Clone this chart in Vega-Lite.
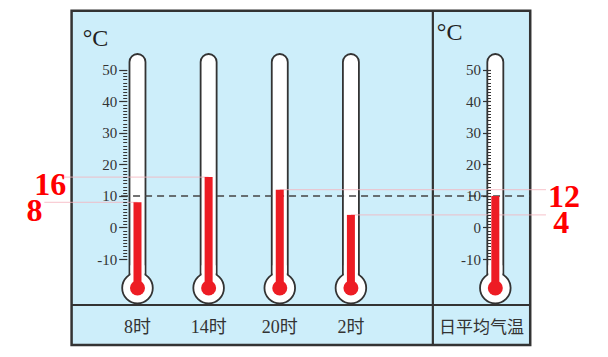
{
  "$schema": "https://vega.github.io/schema/vega-lite/v6.json",
  "width": 608,
  "height": 357,
  "autosize": {"type": "none"},
  "padding": 0,
  "background": "white",
  "config": {"view": {"stroke": null}},
  "data": {"values": [
    {"time": "8时", "slot": 1, "temp": 8},
    {"time": "14时", "slot": 2, "temp": 16},
    {"time": "20时", "slot": 3, "temp": 12},
    {"time": "2时", "slot": 4, "temp": 4},
    {"time": "日平均气温", "slot": 6.03, "temp": 10}
  ]},
  "resolve": {"axis": {"y": "independent"}},
  "layer": [
    {
      "data": {"values": [{}]},
      "mark": {"type": "rect", "fill": "#cdeefa", "stroke": "#333333", "strokeWidth": 2.5},
      "encoding": {
        "x": {"datum": 0.0737, "type": "quantitative", "scale": {"domain": [-0.8623, 7.5436], "nice": false, "zero": false}, "axis": null},
        "x2": {"datum": 6.5206},
        "y": {"datum": 68.83, "type": "quantitative", "scale": {"domain": [-41.11, 72.22], "nice": false, "zero": false}, "axis": null},
        "y2": {"datum": -37.3}
      }
    },
    {
      "data": {"values": [{}]},
      "mark": {"type": "rule", "stroke": "#333333", "strokeWidth": 2.2},
      "encoding": {
        "x": {"datum": 5.152, "type": "quantitative", "scale": {"domain": [-0.8623, 7.5436], "nice": false, "zero": false}, "axis": null},
        "y": {"datum": 68.83, "type": "quantitative", "scale": {"domain": [-41.11, 72.22], "nice": false, "zero": false}, "axis": null},
        "y2": {"datum": -37.3}
      }
    },
    {
      "data": {"values": [{}]},
      "mark": {"type": "rule", "stroke": "#333333", "strokeWidth": 2.2},
      "encoding": {
        "x": {"datum": 0.0737, "type": "quantitative", "scale": {"domain": [-0.8623, 7.5436], "nice": false, "zero": false}, "axis": null},
        "x2": {"datum": 6.5206},
        "y": {"datum": -24.6, "type": "quantitative", "scale": {"domain": [-41.11, 72.22], "nice": false, "zero": false}, "axis": null}
      }
    },
    {
      "mark": {"type": "bar", "width": 16, "fill": "white", "stroke": "#333333", "strokeWidth": 1.8, "cornerRadiusTopLeft": 8, "cornerRadiusTopRight": 8},
      "encoding": {
        "x": {"field": "slot", "type": "quantitative", "scale": {"domain": [-0.8623, 7.5436], "nice": false, "zero": false}, "axis": null},
        "y": {"datum": 55.08, "type": "quantitative", "scale": {"domain": [-41.11, 72.22], "nice": false, "zero": false},
          "axis": {"orient": "left", "offset": -126.7, "values": [-10, 0, 10, 20, 30, 40, 50], "tickSize": 8, "tickWidth": 1.2, "tickColor": "#333333", "labelFont": "Liberation Serif, Times New Roman, serif", "labelFontSize": 15, "labelColor": "#333333", "labelPadding": 2, "labelOverlap": false, "labelFlush": false, "labelExpr": "datum.value < 0 ? '-' + abs(datum.value) : datum.label", "domain": false, "grid": false, "title": null, "zindex": 1}},
        "y2": {"datum": -19.21}
      }
    },
    {
      "mark": {"type": "point", "filled": true, "fill": "white", "stroke": "#333333", "strokeWidth": 1.8, "size": 936, "opacity": 1},
      "encoding": {
        "x": {"field": "slot", "type": "quantitative", "scale": {"domain": [-0.8623, 7.5436], "nice": false, "zero": false}, "axis": null},
        "y": {"datum": -19.21, "type": "quantitative", "scale": {"domain": [-41.11, 72.22], "nice": false, "zero": false}, "axis": null}
      }
    },
    {
      "mark": {"type": "bar", "width": 14, "fill": "white"},
      "encoding": {
        "x": {"field": "slot", "type": "quantitative", "scale": {"domain": [-0.8623, 7.5436], "nice": false, "zero": false}, "axis": null},
        "y": {"datum": -12, "type": "quantitative", "scale": {"domain": [-41.11, 72.22], "nice": false, "zero": false},
          "axis": {"orient": "left", "offset": -126.7, "values": [-10,-9,-8,-7,-6,-5,-4,-3,-2,-1,0,1,2,3,4,5,6,7,8,9,10,11,12,13,14,15,16,17,18,19,20,21,22,23,24,25,26,27,28,29,30,31,32,33,34,35,36,37,38,39,40,41,42,43,44,45,46,47,48,49,50], "tickSize": 4, "tickWidth": 1, "tickColor": "#333333", "labels": false, "domain": false, "grid": false, "title": null, "zindex": 1}},
        "y2": {"datum": -19.21}
      }
    },
    {
      "transform": [{"filter": "datum.time == '14时'"}],
      "mark": {"type": "rule", "stroke": "#f5b3bd", "strokeWidth": 0.8},
      "encoding": {
        "x": {"field": "slot", "type": "quantitative", "scale": {"domain": [-0.8623, 7.5436], "nice": false, "zero": false}, "axis": null},
        "x2": {"datum": -0.0328},
        "y": {"field": "temp", "type": "quantitative", "scale": {"domain": [-41.11, 72.22], "nice": false, "zero": false}, "axis": null}
      }
    },
    {
      "transform": [{"filter": "datum.time == '8时'"}],
      "mark": {"type": "rule", "stroke": "#f5b3bd", "strokeWidth": 0.8},
      "encoding": {
        "x": {"field": "slot", "type": "quantitative", "scale": {"domain": [-0.8623, 7.5436], "nice": false, "zero": false}, "axis": null},
        "x2": {"datum": -0.3095},
        "y": {"field": "temp", "type": "quantitative", "scale": {"domain": [-41.11, 72.22], "nice": false, "zero": false}, "axis": null}
      }
    },
    {
      "transform": [{"filter": "datum.time == '20时' || datum.time == '2时'"}],
      "mark": {"type": "rule", "stroke": "#f5b3bd", "strokeWidth": 0.8},
      "encoding": {
        "x": {"field": "slot", "type": "quantitative", "scale": {"domain": [-0.8623, 7.5436], "nice": false, "zero": false}, "axis": null},
        "x2": {"datum": 6.742},
        "y": {"field": "temp", "type": "quantitative", "scale": {"domain": [-41.11, 72.22], "nice": false, "zero": false}, "axis": null}
      }
    },
    {
      "transform": [{"filter": "datum.time == '日平均气温'"}],
      "mark": {"type": "rule", "stroke": "#444444", "strokeWidth": 1.4, "strokeDash": [7, 5]},
      "encoding": {
        "x": {"datum": 0.769, "type": "quantitative", "scale": {"domain": [-0.8623, 7.5436], "nice": false, "zero": false}, "axis": null},
        "x2": {"datum": 6.5206},
        "y": {"field": "temp", "type": "quantitative", "scale": {"domain": [-41.11, 72.22], "nice": false, "zero": false},
          "axis": {"orient": "left", "offset": -490.5, "values": [-10, 0, 10, 20, 30, 40, 50], "tickSize": 8, "tickWidth": 1.2, "tickColor": "#333333", "labelFont": "Liberation Serif, Times New Roman, serif", "labelFontSize": 15, "labelColor": "#333333", "labelPadding": 2, "labelOverlap": false, "labelFlush": false, "labelExpr": "datum.value < 0 ? '-' + abs(datum.value) : datum.label", "domain": false, "grid": false, "title": null, "zindex": 1}}
      }
    },
    {
      "mark": {"type": "bar", "width": 8, "fill": "#ed1c24"},
      "encoding": {
        "x": {"field": "slot", "type": "quantitative", "scale": {"domain": [-0.8623, 7.5436], "nice": false, "zero": false}, "axis": null},
        "y": {"field": "temp", "type": "quantitative", "scale": {"domain": [-41.11, 72.22], "nice": false, "zero": false},
          "axis": {"orient": "left", "offset": -490.5, "values": [-10,-9,-8,-7,-6,-5,-4,-3,-2,-1,0,1,2,3,4,5,6,7,8,9,10,11,12,13,14,15,16,17,18,19,20,21,22,23,24,25,26,27,28,29,30,31,32,33,34,35,36,37,38,39,40,41,42,43,44,45,46,47,48,49,50], "tickSize": 4, "tickWidth": 1, "tickColor": "#333333", "labels": false, "domain": false, "grid": false, "title": null, "zindex": 1}},
        "y2": {"datum": -19.21}
      }
    },
    {
      "mark": {"type": "point", "filled": true, "fill": "#ed1c24", "size": 225, "opacity": 1},
      "encoding": {
        "x": {"field": "slot", "type": "quantitative", "scale": {"domain": [-0.8623, 7.5436], "nice": false, "zero": false}, "axis": null},
        "y": {"datum": -19.21, "type": "quantitative", "scale": {"domain": [-41.11, 72.22], "nice": false, "zero": false}, "axis": null}
      }
    },
    {
      "transform": [{"filter": "datum.slot < 5"}],
      "mark": {"type": "text", "font": "Liberation Serif, Times New Roman, Noto Sans CJK SC, serif", "fontSize": 18, "fill": "#333333", "baseline": "middle", "align": "center"},
      "encoding": {
        "x": {"field": "slot", "type": "quantitative", "scale": {"domain": [-0.8623, 7.5436], "nice": false, "zero": false}, "axis": null},
        "y": {"datum": -31.75, "type": "quantitative", "scale": {"domain": [-41.11, 72.22], "nice": false, "zero": false}, "axis": null},
        "text": {"field": "time", "type": "nominal"}
      }
    },
    {
      "transform": [{"filter": "datum.slot > 5"}],
      "mark": {"type": "text", "font": "Noto Sans CJK SC", "fontSize": 17, "fill": "#333333", "baseline": "middle", "align": "center"},
      "encoding": {
        "x": {"datum": 5.836, "type": "quantitative", "scale": {"domain": [-0.8623, 7.5436], "nice": false, "zero": false}, "axis": null},
        "y": {"datum": -31.75, "type": "quantitative", "scale": {"domain": [-41.11, 72.22], "nice": false, "zero": false}, "axis": null},
        "text": {"field": "time", "type": "nominal"}
      }
    },
    {
      "data": {"values": [{"unit": "°C"}]},
      "mark": {"type": "text", "font": "Liberation Serif, Times New Roman, serif", "fontSize": 24, "fill": "#222222", "baseline": "middle", "align": "center"},
      "encoding": {
        "x": {"datum": 0.4097, "type": "quantitative", "scale": {"domain": [-0.8623, 7.5436], "nice": false, "zero": false}, "axis": null},
        "y": {"datum": 59.84, "type": "quantitative", "scale": {"domain": [-41.11, 72.22], "nice": false, "zero": false}, "axis": null},
        "text": {"field": "unit", "type": "nominal"}
      }
    },
    {
      "data": {"values": [{"unit": "°C"}]},
      "mark": {"type": "text", "font": "Liberation Serif, Times New Roman, serif", "fontSize": 24, "fill": "#222222", "baseline": "middle", "align": "center"},
      "encoding": {
        "x": {"datum": 5.387, "type": "quantitative", "scale": {"domain": [-0.8623, 7.5436], "nice": false, "zero": false}, "axis": null},
        "y": {"datum": 61.75, "type": "quantitative", "scale": {"domain": [-41.11, 72.22], "nice": false, "zero": false}, "axis": null},
        "text": {"field": "unit", "type": "nominal"}
      }
    },
    {
      "transform": [{"filter": "datum.time == '14时'"}],
      "mark": {"type": "text", "font": "Liberation Serif, Times New Roman, serif", "fontWeight": "bold", "fontSize": 32, "fill": "#ff0000", "baseline": "alphabetic", "align": "center", "dy": 18},
      "encoding": {
        "x": {"datum": -0.2263, "type": "quantitative", "scale": {"domain": [-0.8623, 7.5436], "nice": false, "zero": false}, "axis": null},
        "y": {"field": "temp", "type": "quantitative", "scale": {"domain": [-41.11, 72.22], "nice": false, "zero": false}, "axis": null},
        "text": {"field": "temp", "type": "quantitative"}
      }
    },
    {
      "transform": [{"filter": "datum.time == '8时'"}],
      "mark": {"type": "text", "font": "Liberation Serif, Times New Roman, serif", "fontWeight": "bold", "fontSize": 32, "fill": "#ff0000", "baseline": "alphabetic", "align": "center", "dy": 18.7},
      "encoding": {
        "x": {"datum": -0.4476, "type": "quantitative", "scale": {"domain": [-0.8623, 7.5436], "nice": false, "zero": false}, "axis": null},
        "y": {"field": "temp", "type": "quantitative", "scale": {"domain": [-41.11, 72.22], "nice": false, "zero": false}, "axis": null},
        "text": {"field": "temp", "type": "quantitative"}
      }
    },
    {
      "transform": [{"filter": "datum.time == '20时'"}],
      "mark": {"type": "text", "font": "Liberation Serif, Times New Roman, serif", "fontWeight": "bold", "fontSize": 32, "fill": "#ff0000", "baseline": "alphabetic", "align": "center", "dy": 17},
      "encoding": {
        "x": {"datum": 6.9947, "type": "quantitative", "scale": {"domain": [-0.8623, 7.5436], "nice": false, "zero": false}, "axis": null},
        "y": {"field": "temp", "type": "quantitative", "scale": {"domain": [-41.11, 72.22], "nice": false, "zero": false}, "axis": null},
        "text": {"field": "temp", "type": "quantitative"}
      }
    },
    {
      "transform": [{"filter": "datum.time == '2时'"}],
      "mark": {"type": "text", "font": "Liberation Serif, Times New Roman, serif", "fontWeight": "bold", "fontSize": 32, "fill": "#ff0000", "baseline": "alphabetic", "align": "center", "dy": 18.1},
      "encoding": {
        "x": {"datum": 6.956, "type": "quantitative", "scale": {"domain": [-0.8623, 7.5436], "nice": false, "zero": false}, "axis": null},
        "y": {"field": "temp", "type": "quantitative", "scale": {"domain": [-41.11, 72.22], "nice": false, "zero": false}, "axis": null},
        "text": {"field": "temp", "type": "quantitative"}
      }
    }
  ]
}
